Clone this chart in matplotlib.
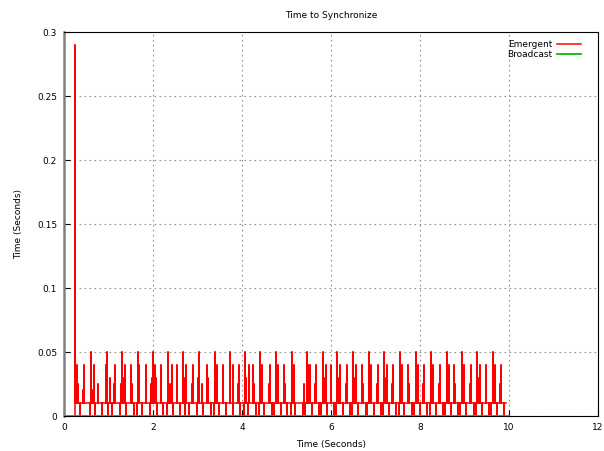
import matplotlib
matplotlib.use("Agg")
import matplotlib.pyplot as plt

# Emergent: baseline level, plus spikes (time s, height s)
baseline = 0.01
start_t = 0.24
end_t = 9.93
spike_t = [0.24, 0.255, 0.30, 0.32, 0.43, 0.46, 0.61, 0.64, 0.67, 0.77, 0.94, 0.97,
           1.03, 1.13, 1.15, 1.28, 1.30, 1.35, 1.37, 1.51, 1.52, 1.66, 1.67, 1.69,
           1.84, 1.96, 1.98, 2.00, 2.04, 2.06, 2.17, 2.19, 2.33, 2.34, 2.39, 2.42,
           2.53, 2.55, 2.68, 2.69, 2.74, 2.87, 2.89, 3.02, 3.04, 3.09, 3.22, 3.24,
           3.39, 3.40, 3.42, 3.44, 3.57, 3.58, 3.73, 3.74, 3.79, 3.90, 3.93, 4.07,
           4.10, 4.15, 4.25, 4.27, 4.40, 4.42, 4.46, 4.61, 4.63, 4.76, 4.78, 4.82,
           4.95, 4.96, 5.12, 5.13, 5.17, 5.40, 5.45, 5.47, 5.49, 5.53, 5.64, 5.66,
           5.81, 5.84, 5.89, 6.00, 6.01, 6.14, 6.16, 6.21, 6.34, 6.36, 6.50, 6.52,
           6.56, 6.69, 6.71, 6.85, 6.90, 6.91, 7.03, 7.06, 7.19, 7.21, 7.25, 7.38,
           7.40, 7.55, 7.57, 7.60, 7.74, 7.75, 7.90, 7.92, 7.96, 8.07, 8.09, 8.25,
           8.26, 8.30, 8.42, 8.45, 8.60, 8.62, 8.65, 8.77, 8.79, 8.94, 8.95, 9.00,
           9.12, 9.14, 9.29, 9.30, 9.35, 9.48, 9.49, 9.63, 9.65, 9.69, 9.80, 9.82]
spike_h = [0.145, 0.29, 0.04, 0.025, 0.02, 0.04, 0.05, 0.02, 0.04, 0.025, 0.04, 0.05,
           0.03, 0.025, 0.04, 0.025, 0.05, 0.03, 0.04, 0.04, 0.025, 0.05, 0.03, 0.04,
           0.04, 0.025, 0.03, 0.05, 0.04, 0.03, 0.025, 0.04, 0.03, 0.05, 0.025, 0.04,
           0.04, 0.03, 0.05, 0.03, 0.04, 0.025, 0.04, 0.03, 0.05, 0.025, 0.04, 0.03,
           0.05, 0.03, 0.025, 0.04, 0.04, 0.025, 0.05, 0.03, 0.04, 0.025, 0.04, 0.05,
           0.03, 0.04, 0.04, 0.025, 0.05, 0.03, 0.04, 0.025, 0.04, 0.05, 0.03, 0.04,
           0.04, 0.025, 0.05, 0.03, 0.04, 0.025, 0.05, 0.03, 0.04, 0.04, 0.025, 0.04,
           0.05, 0.03, 0.04, 0.04, 0.025, 0.05, 0.03, 0.04, 0.025, 0.04, 0.05, 0.03,
           0.04, 0.04, 0.025, 0.05, 0.025, 0.04, 0.025, 0.04, 0.05, 0.03, 0.04, 0.025,
           0.04, 0.05, 0.03, 0.04, 0.04, 0.025, 0.05, 0.03, 0.04, 0.025, 0.04, 0.05,
           0.03, 0.04, 0.025, 0.04, 0.05, 0.03, 0.04, 0.04, 0.025, 0.05, 0.03, 0.04,
           0.025, 0.04, 0.05, 0.03, 0.04, 0.04, 0.025, 0.05, 0.03, 0.04, 0.025, 0.04]
# moments where the emergent curve drops to zero
dip_t = [0.36, 0.58, 0.70, 0.85, 0.99, 1.08, 1.26, 1.40, 1.58, 1.63, 1.76, 1.93,
         2.08, 2.22, 2.31, 2.45, 2.60, 2.71, 2.80, 2.98, 3.12, 3.30, 3.36, 3.49,
         3.65, 3.80, 3.96, 4.04, 4.13, 4.31, 4.38, 4.50, 4.68, 4.73, 4.88, 5.02,
         5.09, 5.20, 5.36, 5.42, 5.57, 5.72, 5.78, 5.92, 6.06, 6.12, 6.26, 6.42,
         6.47, 6.60, 6.78, 6.82, 6.97, 7.12, 7.17, 7.30, 7.46, 7.52, 7.65, 7.82,
         7.87, 8.00, 8.16, 8.22, 8.35, 8.52, 8.57, 8.70, 8.86, 8.91, 9.04, 9.21,
         9.26, 9.40, 9.56, 9.60, 9.74, 9.88]

# Broadcast: flat at zero over the whole run
broadcast_t = [0.0, 10.0]
broadcast_v = [0.0, 0.0]

xticks = [0, 2, 4, 6, 8, 10, 12]
yticks = [0, 0.05, 0.1, 0.15, 0.2, 0.25, 0.3]
ytick_labels = ["0", "0.05", "0.1", "0.15", "0.2", "0.25", "0.3"]

events = sorted([(t, h) for t, h in zip(spike_t, spike_h)] + [(t, 0.0) for t in dip_t])
ex = [start_t]
ey = [0.0]
for t, h in events:
    ex += [t, t, t]
    ey += [baseline, h, baseline]
ex.append(end_t)
ey.append(baseline)

plt.rcParams["font.family"] = ["DejaVu Sans"]
plt.rcParams["font.size"] = 6.5

fig = plt.figure(figsize=(6.04, 4.51), dpi=100)
ax = fig.add_axes([0.106, 0.0776, 0.884, 0.851])

ax.plot(ex, ey, color="#ff0000", lw=1.1, label="Emergent", zorder=3)
ax.plot(broadcast_t, broadcast_v, color="#00c000", lw=1.3, label="Broadcast", zorder=4)

ax.set_xlim(0, 12)
ax.set_ylim(0, 0.3)
ax.set_xticks(xticks)
ax.set_yticks(yticks)
ax.set_yticklabels(ytick_labels)
ax.tick_params(direction="in", length=4, width=0.8, color="black", pad=5)
ax.grid(True, color="#909090", linestyle=(0, (1.5, 3)), linewidth=0.8)
ax.set_axisbelow(True)

for side in ("top", "right", "bottom"):
    ax.spines[side].set_color("black")
    ax.spines[side].set_linewidth(0.8)
ax.spines["left"].set_color("#808080")
ax.spines["left"].set_linewidth(1.8)

ax.set_title("Time to Synchronize", fontsize=6.5, pad=10)
ax.set_xlabel("Time (Seconds)", labelpad=6)
ax.set_ylabel("Time (Seconds)", labelpad=10)

ax.legend(loc="upper right", bbox_to_anchor=(0.98, 0.995), frameon=False,
          markerfirst=False, handlelength=2.6, handletextpad=0.6,
          labelspacing=0.1, borderaxespad=0.3, fontsize=6.5)

fig.savefig("out.png", dpi=100)
